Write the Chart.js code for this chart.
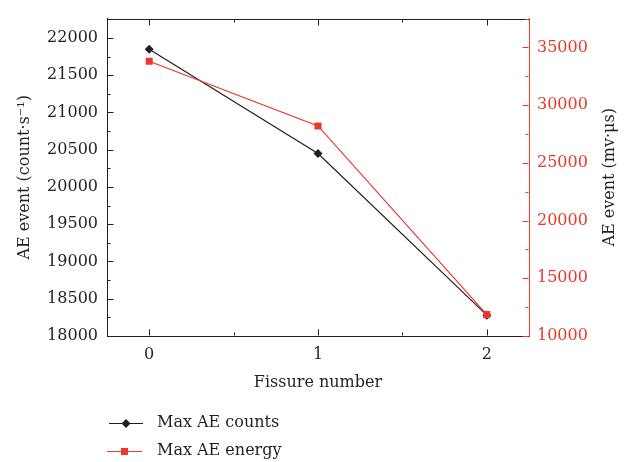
<!DOCTYPE html>
<html>
<head>
<meta charset="utf-8">
<script src="https://cdn.jsdelivr.net/npm/chart.js@4.4.0/dist/chart.umd.min.js"></script>
<style>
  html, body { margin: 0; padding: 0; background: #fff; }
  #wrap { width: 628px; height: 462px; position: relative; }
</style>
</head>
<body>
<div id="wrap"><canvas id="fissure-chart"></canvas></div>
<script>
// Valores
const fissureNumbers = [0, 1, 2];
const maxCounts = [21850, 20450, 18280];
const maxEnergy = [33800, 28200, 11850];

// Marcas dos eixos
const xTicks = [0, 1, 2];
const countTicks = [18000, 18500, 19000, 19500, 20000, 20500, 21000, 21500, 22000];
const energyTicks = [10000, 15000, 20000, 25000, 30000, 35000];

const RED = '#e8392a';
const INK = '#231f20';
const FONT = "'DejaVu Serif', 'Liberation Serif', serif";
const FSIZE = 16;

// minor ticks a meio caminho entre os principais
function minors(ticks, min, max) {
  const step = ticks[1] - ticks[0];
  const out = [];
  for (let v = ticks[0] - step / 2; v <= max; v += step) {
    if (v >= min) out.push(v);
  }
  return out;
}

// ticks para dentro nos quatro lados + linha de cima + título da direita
const frameTicks = {
  id: 'frameTicks',
  afterDraw(chart) {
    const {ctx, chartArea: a, scales} = chart;
    const seg = (x1, y1, x2, y2, color) => {
      ctx.strokeStyle = color;
      ctx.beginPath();
      ctx.moveTo(x1, y1);
      ctx.lineTo(x2, y2);
      ctx.stroke();
    };
    ctx.save();
    ctx.lineWidth = 1;
    const top = Math.round(a.top) + 0.5;
    const bottom = Math.round(a.bottom) - 0.5;
    const left = Math.round(a.left) + 0.5;
    const right = Math.round(a.right) - 0.5;
    seg(a.left, top, a.right, top, INK);

    const x = scales.x;
    const drawX = (v, len) => {
      const px = Math.round(x.getPixelForValue(v)) + 0.5;
      seg(px, bottom, px, bottom - len, INK);
      seg(px, top, px, top + len, INK);
    };
    xTicks.forEach(v => drawX(v, 6));
    minors(xTicks, x.min, x.max).forEach(v => drawX(v, 3));

    const y = scales.y;
    const drawY = (v, len) => {
      const py = Math.round(y.getPixelForValue(v)) + 0.5;
      seg(left, py, left + len, py, INK);
    };
    countTicks.forEach(v => drawY(v, 6));
    minors(countTicks, y.min, y.max).forEach(v => drawY(v, 3));

    const y1 = scales.y1;
    const drawY1 = (v, len) => {
      const py = Math.round(y1.getPixelForValue(v)) + 0.5;
      seg(right, py, right - len, py, RED);
    };
    energyTicks.forEach(v => drawY1(v, 6));
    minors(energyTicks, y1.min, y1.max).forEach(v => drawY1(v, 3));

    // título do eixo direito, lido de baixo para cima como no original
    ctx.translate(610, (a.top + a.bottom) / 2);
    ctx.rotate(-Math.PI / 2);
    ctx.fillStyle = INK;
    ctx.font = FSIZE + 'px ' + FONT;
    ctx.textAlign = 'center';
    ctx.textBaseline = 'middle';
    ctx.fillText('AE event (mv·μs)', 0, 0);
    ctx.restore();
  }
};

// legenda embaixo à esquerda, linha com marcador no meio
const sideLegend = {
  id: 'sideLegend',
  afterDraw(chart) {
    const {ctx} = chart;
    const rows = [
      {ds: chart.data.datasets[1], y: 423, x1: 109, x2: 143},
      {ds: chart.data.datasets[0], y: 451, x1: 107, x2: 142}
    ];
    ctx.save();
    rows.forEach(r => {
      ctx.strokeStyle = r.ds.borderColor;
      ctx.lineWidth = r.ds.borderWidth;
      ctx.beginPath();
      ctx.moveTo(r.x1, r.y + 0.5);
      ctx.lineTo(r.x2, r.y + 0.5);
      ctx.stroke();
      ctx.fillStyle = r.ds.pointBackgroundColor;
      Chart.helpers.drawPoint(ctx, {
        pointStyle: r.ds.pointStyle,
        radius: r.ds.pointRadius,
        borderWidth: 0,
        rotation: 0
      }, (r.x1 + r.x2) / 2, r.y + 0.5);
      ctx.fillStyle = INK;
      ctx.font = FSIZE + 'px ' + FONT;
      ctx.textBaseline = 'middle';
      ctx.fillText(r.ds.label, 157, r.y);
    });
    ctx.restore();
  }
};

const ctx = document.getElementById('fissure-chart').getContext('2d');
new Chart(ctx, {
  type: 'line',
  data: {
    datasets: [
      {
        label: 'Max AE energy',
        data: fissureNumbers.map((f, i) => ({x: f, y: maxEnergy[i]})),
        yAxisID: 'y1',
        borderColor: RED,
        backgroundColor: RED,
        pointBackgroundColor: RED,
        pointBorderWidth: 0,
        pointStyle: 'rect',
        pointRadius: 5,
        borderWidth: 1.2,
        order: 0
      },
      {
        label: 'Max AE counts',
        data: fissureNumbers.map((f, i) => ({x: f, y: maxCounts[i]})),
        yAxisID: 'y',
        borderColor: INK,
        backgroundColor: INK,
        pointBackgroundColor: INK,
        pointBorderWidth: 0,
        pointStyle: 'rectRot',
        pointRadius: 4.5,
        borderWidth: 1.2,
        order: 1
      }
    ]
  },
  options: {
    responsive: true,
    maintainAspectRatio: false,
    animation: false,
    layout: { padding: {left: 15, right: 8, top: 8, bottom: 70} },
    plugins: {
      legend: { display: false },
      tooltip: { enabled: false }
    },
    scales: {
      x: {
        type: 'linear',
        min: -0.25,
        max: 2.25,
        grid: { display: false, drawTicks: false },
        border: { color: INK, width: 1 },
        afterBuildTicks: s => { s.ticks = xTicks.map(v => ({value: v})); },
        afterFit: s => { s.height = 56; },
        ticks: { color: INK, padding: 9, font: { family: FONT, size: FSIZE } },
        title: {
          display: true,
          text: 'Fissure number',
          color: INK,
          padding: 0,
          font: { family: FONT, size: FSIZE }
        }
      },
      y: {
        position: 'left',
        min: 18000,
        max: 22260,
        grid: { display: false, drawTicks: false },
        border: { color: INK, width: 1 },
        afterBuildTicks: s => { s.ticks = countTicks.map(v => ({value: v})); },
        afterFit: s => { s.width = 92; },
        ticks: {
          color: INK,
          padding: 9,
          font: { family: FONT, size: FSIZE },
          callback: v => String(v)
        },
        title: {
          display: true,
          text: 'AE event (count·s⁻¹)',
          color: INK,
          padding: 0,
          font: { family: FONT, size: FSIZE }
        }
      },
      y1: {
        position: 'right',
        min: 10000,
        max: 37500,
        grid: { display: false, drawTicks: false },
        border: { color: RED, width: 1 },
        afterBuildTicks: s => { s.ticks = energyTicks.map(v => ({value: v})); },
        afterFit: s => { s.width = 91; },
        ticks: {
          color: RED,
          padding: 8,
          font: { family: FONT, size: FSIZE },
          callback: v => String(v)
        },
        title: { display: false }
      }
    }
  },
  plugins: [frameTicks, sideLegend]
});
</script>
</body>
</html>
